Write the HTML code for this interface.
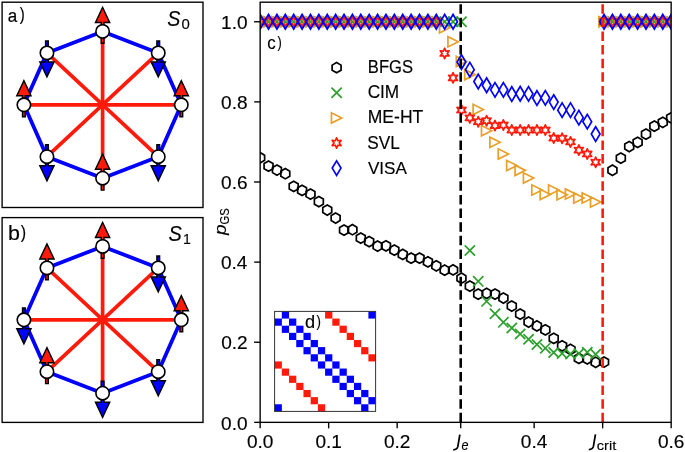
<!DOCTYPE html>
<html><head><meta charset="utf-8"><style>
html,body{margin:0;padding:0;background:#fff;width:685px;height:452px;overflow:hidden;}
svg{display:block;will-change:transform;}
text{font-family:"Liberation Sans",sans-serif;fill:#000;stroke:#000;stroke-width:0.15px;}
</style></head><body>
<svg width="685" height="452" viewBox="0 0 685 452">
<defs>
<clipPath id="axclip"><rect x="260.15" y="2.2" width="411.00" height="420.15"/></clipPath>
<path id="mh" d="M0,-5.14 L-4.46,-2.57 L-4.46,2.57 L-0,5.14 L4.46,2.57 L4.46,-2.57 Z" fill="none" stroke="#000" stroke-width="1.71" stroke-linejoin="miter"/>
<path id="mx" d="M-5.14,-5.14 L5.14,5.14 M-5.14,5.14 L5.14,-5.14" fill="none" stroke="#2ca02c" stroke-width="1.71" stroke-linecap="butt"/>
<path id="mt" d="M5.14,0 L-5.14,-5.14 L-5.14,5.14 Z" fill="none" stroke="#e9a02a" stroke-width="1.71" stroke-linejoin="miter"/>
<path id="ms" d="M0,-5.14 L-1.29,-2.23 L-4.46,-2.57 L-2.57,-0 L-4.46,2.57 L-1.29,2.23 L-0,5.14 L1.29,2.23 L4.46,2.57 L2.57,0 L4.46,-2.57 L1.29,-2.23 Z" fill="none" stroke="#ff1a0a" stroke-width="1.71" stroke-linejoin="round"/>
<path id="md" d="M0,-7.28 L4.37,0 L0,7.28 L-4.37,0 Z" fill="none" stroke="#0000ff" stroke-width="1.71" stroke-linejoin="miter"/>
</defs>
<rect width="685" height="452" fill="#fff"/>
<rect x="2.1" y="2.2" width="200.9" height="205.30" fill="none" stroke="#000" stroke-width="1.37"/>
<line x1="181.3" y1="104.8" x2="158.25" y2="52.9" stroke="#0000ff" stroke-width="3.8" stroke-linecap="round"/>
<line x1="158.25" y1="52.9" x2="102.6" y2="31.4" stroke="#0000ff" stroke-width="3.8" stroke-linecap="round"/>
<line x1="102.6" y1="31.4" x2="46.95" y2="52.9" stroke="#0000ff" stroke-width="3.8" stroke-linecap="round"/>
<line x1="46.95" y1="52.9" x2="23.9" y2="104.8" stroke="#0000ff" stroke-width="3.8" stroke-linecap="round"/>
<line x1="23.9" y1="104.8" x2="46.95" y2="156.7" stroke="#0000ff" stroke-width="3.8" stroke-linecap="round"/>
<line x1="46.95" y1="156.7" x2="102.6" y2="178.2" stroke="#0000ff" stroke-width="3.8" stroke-linecap="round"/>
<line x1="102.6" y1="178.2" x2="158.25" y2="156.7" stroke="#0000ff" stroke-width="3.8" stroke-linecap="round"/>
<line x1="158.25" y1="156.7" x2="181.3" y2="104.8" stroke="#0000ff" stroke-width="3.8" stroke-linecap="round"/>
<line x1="181.3" y1="104.8" x2="23.9" y2="104.8" stroke="#ff1a0a" stroke-width="3.7"/>
<line x1="158.25" y1="52.9" x2="46.95" y2="156.7" stroke="#ff1a0a" stroke-width="3.7"/>
<line x1="102.6" y1="31.4" x2="102.6" y2="178.2" stroke="#ff1a0a" stroke-width="3.7"/>
<line x1="46.95" y1="52.9" x2="158.25" y2="156.7" stroke="#ff1a0a" stroke-width="3.7"/>
<polygon points="101.25,43.3 101.25,22.4 95.5,22.4 102.6,7.4 109.7,22.4 103.95,22.4 103.95,43.3" fill="#ff1a0a" stroke="#000" stroke-width="1.45" stroke-linejoin="miter"/>
<polygon points="45.6,41 45.6,61.9 39.85,61.9 46.95,76.9 54.05,61.9 48.3,61.9 48.3,41" fill="#0000ff" stroke="#000" stroke-width="1.45" stroke-linejoin="miter"/>
<polygon points="22.55,116.7 22.55,95.8 16.8,95.8 23.9,80.8 31,95.8 25.25,95.8 25.25,116.7" fill="#ff1a0a" stroke="#000" stroke-width="1.45" stroke-linejoin="miter"/>
<polygon points="45.6,144.8 45.6,165.7 39.85,165.7 46.95,180.7 54.05,165.7 48.3,165.7 48.3,144.8" fill="#0000ff" stroke="#000" stroke-width="1.45" stroke-linejoin="miter"/>
<polygon points="101.25,190.1 101.25,169.2 95.5,169.2 102.6,154.2 109.7,169.2 103.95,169.2 103.95,190.1" fill="#ff1a0a" stroke="#000" stroke-width="1.45" stroke-linejoin="miter"/>
<polygon points="156.9,144.8 156.9,165.7 151.15,165.7 158.25,180.7 165.35,165.7 159.6,165.7 159.6,144.8" fill="#0000ff" stroke="#000" stroke-width="1.45" stroke-linejoin="miter"/>
<polygon points="179.95,116.7 179.95,95.8 174.2,95.8 181.3,80.8 188.4,95.8 182.65,95.8 182.65,116.7" fill="#ff1a0a" stroke="#000" stroke-width="1.45" stroke-linejoin="miter"/>
<polygon points="156.9,41 156.9,61.9 151.15,61.9 158.25,76.9 165.35,61.9 159.6,61.9 159.6,41" fill="#0000ff" stroke="#000" stroke-width="1.45" stroke-linejoin="miter"/>
<circle cx="102.6" cy="31.4" r="6.7" fill="#fff" stroke="#000" stroke-width="1.6"/>
<circle cx="46.95" cy="52.9" r="6.7" fill="#fff" stroke="#000" stroke-width="1.6"/>
<circle cx="23.9" cy="104.8" r="6.7" fill="#fff" stroke="#000" stroke-width="1.6"/>
<circle cx="46.95" cy="156.7" r="6.7" fill="#fff" stroke="#000" stroke-width="1.6"/>
<circle cx="102.6" cy="178.2" r="6.7" fill="#fff" stroke="#000" stroke-width="1.6"/>
<circle cx="158.25" cy="156.7" r="6.7" fill="#fff" stroke="#000" stroke-width="1.6"/>
<circle cx="181.3" cy="104.8" r="6.7" fill="#fff" stroke="#000" stroke-width="1.6"/>
<circle cx="158.25" cy="52.9" r="6.7" fill="#fff" stroke="#000" stroke-width="1.6"/>
<text transform="translate(7.73,21.61) scale(0.884,1)" font-size="19.27">a</text>
<text transform="translate(19.86,20.31) scale(0.825,1)" font-size="18.13">)</text>
<text transform="translate(167.37,25.62) scale(0.902,1)" font-size="21.80" font-style="italic">S</text>
<text transform="translate(181.43,29.05) scale(0.973,1)" font-size="15.35">0</text>
<rect x="2.1" y="217.6" width="200.9" height="204.80" fill="none" stroke="#000" stroke-width="1.37"/>
<line x1="181.3" y1="319.8" x2="158.25" y2="267.9" stroke="#0000ff" stroke-width="3.8" stroke-linecap="round"/>
<line x1="158.25" y1="267.9" x2="102.6" y2="246.4" stroke="#0000ff" stroke-width="3.8" stroke-linecap="round"/>
<line x1="102.6" y1="246.4" x2="46.95" y2="267.9" stroke="#0000ff" stroke-width="3.8" stroke-linecap="round"/>
<line x1="46.95" y1="267.9" x2="23.9" y2="319.8" stroke="#0000ff" stroke-width="3.8" stroke-linecap="round"/>
<line x1="23.9" y1="319.8" x2="46.95" y2="371.7" stroke="#0000ff" stroke-width="3.8" stroke-linecap="round"/>
<line x1="46.95" y1="371.7" x2="102.6" y2="393.2" stroke="#0000ff" stroke-width="3.8" stroke-linecap="round"/>
<line x1="102.6" y1="393.2" x2="158.25" y2="371.7" stroke="#0000ff" stroke-width="3.8" stroke-linecap="round"/>
<line x1="158.25" y1="371.7" x2="181.3" y2="319.8" stroke="#0000ff" stroke-width="3.8" stroke-linecap="round"/>
<line x1="181.3" y1="319.8" x2="23.9" y2="319.8" stroke="#ff1a0a" stroke-width="3.7"/>
<line x1="158.25" y1="267.9" x2="46.95" y2="371.7" stroke="#ff1a0a" stroke-width="3.7"/>
<line x1="102.6" y1="246.4" x2="102.6" y2="393.2" stroke="#ff1a0a" stroke-width="3.7"/>
<line x1="46.95" y1="267.9" x2="158.25" y2="371.7" stroke="#ff1a0a" stroke-width="3.7"/>
<polygon points="101.25,258.3 101.25,237.4 95.5,237.4 102.6,222.4 109.7,237.4 103.95,237.4 103.95,258.3" fill="#ff1a0a" stroke="#000" stroke-width="1.45" stroke-linejoin="miter"/>
<polygon points="45.6,279.8 45.6,258.9 39.85,258.9 46.95,243.9 54.05,258.9 48.3,258.9 48.3,279.8" fill="#ff1a0a" stroke="#000" stroke-width="1.45" stroke-linejoin="miter"/>
<polygon points="22.55,307.9 22.55,328.8 16.8,328.8 23.9,343.8 31,328.8 25.25,328.8 25.25,307.9" fill="#0000ff" stroke="#000" stroke-width="1.45" stroke-linejoin="miter"/>
<polygon points="45.6,383.6 45.6,362.7 39.85,362.7 46.95,347.7 54.05,362.7 48.3,362.7 48.3,383.6" fill="#ff1a0a" stroke="#000" stroke-width="1.45" stroke-linejoin="miter"/>
<polygon points="101.25,381.3 101.25,402.2 95.5,402.2 102.6,417.2 109.7,402.2 103.95,402.2 103.95,381.3" fill="#0000ff" stroke="#000" stroke-width="1.45" stroke-linejoin="miter"/>
<polygon points="156.9,359.8 156.9,380.7 151.15,380.7 158.25,395.7 165.35,380.7 159.6,380.7 159.6,359.8" fill="#0000ff" stroke="#000" stroke-width="1.45" stroke-linejoin="miter"/>
<polygon points="179.95,331.7 179.95,310.8 174.2,310.8 181.3,295.8 188.4,310.8 182.65,310.8 182.65,331.7" fill="#ff1a0a" stroke="#000" stroke-width="1.45" stroke-linejoin="miter"/>
<polygon points="156.9,256 156.9,276.9 151.15,276.9 158.25,291.9 165.35,276.9 159.6,276.9 159.6,256" fill="#0000ff" stroke="#000" stroke-width="1.45" stroke-linejoin="miter"/>
<circle cx="102.6" cy="246.4" r="6.7" fill="#fff" stroke="#000" stroke-width="1.6"/>
<circle cx="46.95" cy="267.9" r="6.7" fill="#fff" stroke="#000" stroke-width="1.6"/>
<circle cx="23.9" cy="319.8" r="6.7" fill="#fff" stroke="#000" stroke-width="1.6"/>
<circle cx="46.95" cy="371.7" r="6.7" fill="#fff" stroke="#000" stroke-width="1.6"/>
<circle cx="102.6" cy="393.2" r="6.7" fill="#fff" stroke="#000" stroke-width="1.6"/>
<circle cx="158.25" cy="371.7" r="6.7" fill="#fff" stroke="#000" stroke-width="1.6"/>
<circle cx="181.3" cy="319.8" r="6.7" fill="#fff" stroke="#000" stroke-width="1.6"/>
<circle cx="158.25" cy="267.9" r="6.7" fill="#fff" stroke="#000" stroke-width="1.6"/>
<text transform="translate(8.03,239.80) scale(1.092,1)" font-size="19.62">b</text>
<text transform="translate(20.84,238.34) scale(0.868,1)" font-size="18.52">)</text>
<text transform="translate(168.58,240.74) scale(0.907,1)" font-size="21.97" font-style="italic">S</text>
<text transform="translate(182.89,243.90) scale(0.921,1)" font-size="15.36">1</text>
<g clip-path="url(#axclip)">
<use href="#mh" x="260.15" y="157.75"/>
<use href="#mh" x="268.54" y="166.17"/>
<use href="#mh" x="276.93" y="170.05"/>
<use href="#mh" x="285.31" y="173.74"/>
<use href="#mh" x="293.7" y="186.36"/>
<use href="#mh" x="302.09" y="190.36"/>
<use href="#mh" x="310.48" y="194.05"/>
<use href="#mh" x="318.86" y="201.66"/>
<use href="#mh" x="327.25" y="210.03"/>
<use href="#mh" x="335.64" y="218.04"/>
<use href="#mh" x="344.03" y="230.14"/>
<use href="#mh" x="352.42" y="229.74"/>
<use href="#mh" x="360.8" y="238.07"/>
<use href="#mh" x="369.19" y="241.64"/>
<use href="#mh" x="377.58" y="246.05"/>
<use href="#mh" x="385.97" y="245.89"/>
<use href="#mh" x="394.35" y="250.17"/>
<use href="#mh" x="402.74" y="254.46"/>
<use href="#mh" x="411.13" y="258.14"/>
<use href="#mh" x="419.52" y="258.14"/>
<use href="#mh" x="427.91" y="261.83"/>
<use href="#mh" x="436.29" y="265.8"/>
<use href="#mh" x="444.68" y="270.2"/>
<use href="#mh" x="453.07" y="269.96"/>
<use href="#mh" x="461.46" y="278.21"/>
<use href="#mh" x="469.84" y="286.15"/>
<use href="#mh" x="478.23" y="294.16"/>
<use href="#mh" x="486.62" y="293.44"/>
<use href="#mh" x="495.01" y="294.16"/>
<use href="#mh" x="503.39" y="298.04"/>
<use href="#mh" x="511.78" y="306.06"/>
<use href="#mh" x="520.17" y="314.07"/>
<use href="#mh" x="528.56" y="322.04"/>
<use href="#mh" x="536.95" y="325.97"/>
<use href="#mh" x="545.33" y="329.93"/>
<use href="#mh" x="553.72" y="338.34"/>
<use href="#mh" x="562.11" y="345.84"/>
<use href="#mh" x="570.5" y="349.44"/>
<use href="#mh" x="578.88" y="358.45"/>
<use href="#mh" x="587.27" y="358.85"/>
<use href="#mh" x="595.66" y="362.26"/>
<use href="#mh" x="604.05" y="362.06"/>
<use href="#mh" x="612.44" y="170.25"/>
<use href="#mh" x="620.82" y="158.15"/>
<use href="#mh" x="629.21" y="146.54"/>
<use href="#mh" x="637.6" y="142.33"/>
<use href="#mh" x="645.99" y="134.16"/>
<use href="#mh" x="654.37" y="126.15"/>
<use href="#mh" x="662.76" y="122.3"/>
<use href="#mh" x="671.15" y="117.89"/>
<use href="#mx" x="260.15" y="21.75"/>
<use href="#mx" x="268.54" y="21.75"/>
<use href="#mx" x="276.93" y="21.75"/>
<use href="#mx" x="285.31" y="21.75"/>
<use href="#mx" x="293.7" y="21.75"/>
<use href="#mx" x="302.09" y="21.75"/>
<use href="#mx" x="310.48" y="21.75"/>
<use href="#mx" x="318.86" y="21.75"/>
<use href="#mx" x="327.25" y="21.75"/>
<use href="#mx" x="335.64" y="21.75"/>
<use href="#mx" x="344.03" y="21.75"/>
<use href="#mx" x="352.42" y="21.75"/>
<use href="#mx" x="360.8" y="21.75"/>
<use href="#mx" x="369.19" y="21.75"/>
<use href="#mx" x="377.58" y="21.75"/>
<use href="#mx" x="385.97" y="21.75"/>
<use href="#mx" x="394.35" y="21.75"/>
<use href="#mx" x="402.74" y="21.75"/>
<use href="#mx" x="411.13" y="21.75"/>
<use href="#mx" x="419.52" y="21.75"/>
<use href="#mx" x="427.91" y="21.75"/>
<use href="#mx" x="436.29" y="21.75"/>
<use href="#mx" x="444.68" y="21.75"/>
<use href="#mx" x="453.07" y="21.75"/>
<use href="#mx" x="461.46" y="21.75"/>
<use href="#mx" x="469.84" y="250.49"/>
<use href="#mx" x="478.23" y="281.34"/>
<use href="#mx" x="486.62" y="301.37"/>
<use href="#mx" x="495.01" y="313.79"/>
<use href="#mx" x="503.39" y="322.36"/>
<use href="#mx" x="511.78" y="327.97"/>
<use href="#mx" x="520.17" y="333.94"/>
<use href="#mx" x="528.56" y="339.27"/>
<use href="#mx" x="536.95" y="344.55"/>
<use href="#mx" x="545.33" y="348.16"/>
<use href="#mx" x="553.72" y="352.45"/>
<use href="#mx" x="562.11" y="353.57"/>
<use href="#mx" x="570.5" y="354.05"/>
<use href="#mx" x="578.88" y="353.57"/>
<use href="#mx" x="587.27" y="352.25"/>
<use href="#mx" x="595.66" y="354.25"/>
<use href="#mx" x="604.05" y="21.75"/>
<use href="#mx" x="612.44" y="21.75"/>
<use href="#mx" x="620.82" y="21.75"/>
<use href="#mx" x="629.21" y="21.75"/>
<use href="#mx" x="637.6" y="21.75"/>
<use href="#mx" x="645.99" y="21.75"/>
<use href="#mx" x="654.37" y="21.75"/>
<use href="#mx" x="662.76" y="21.75"/>
<use href="#mx" x="671.15" y="21.75"/>
<use href="#mt" x="260.15" y="21.75"/>
<use href="#mt" x="268.54" y="21.75"/>
<use href="#mt" x="276.93" y="21.75"/>
<use href="#mt" x="285.31" y="21.75"/>
<use href="#mt" x="293.7" y="21.75"/>
<use href="#mt" x="302.09" y="21.75"/>
<use href="#mt" x="310.48" y="21.75"/>
<use href="#mt" x="318.86" y="21.75"/>
<use href="#mt" x="327.25" y="21.75"/>
<use href="#mt" x="335.64" y="21.75"/>
<use href="#mt" x="344.03" y="21.75"/>
<use href="#mt" x="352.42" y="21.75"/>
<use href="#mt" x="360.8" y="21.75"/>
<use href="#mt" x="369.19" y="21.75"/>
<use href="#mt" x="377.58" y="21.75"/>
<use href="#mt" x="385.97" y="21.75"/>
<use href="#mt" x="394.35" y="21.75"/>
<use href="#mt" x="402.74" y="21.75"/>
<use href="#mt" x="411.13" y="21.75"/>
<use href="#mt" x="419.52" y="21.75"/>
<use href="#mt" x="427.91" y="21.75"/>
<use href="#mt" x="436.29" y="21.75"/>
<use href="#mt" x="444.68" y="27.76"/>
<use href="#mt" x="453.07" y="41.78"/>
<use href="#mt" x="461.46" y="61.41"/>
<use href="#mt" x="469.84" y="74.63"/>
<use href="#mt" x="478.23" y="109.48"/>
<use href="#mt" x="486.62" y="130.71"/>
<use href="#mt" x="495.01" y="142.33"/>
<use href="#mt" x="503.39" y="153.95"/>
<use href="#mt" x="511.78" y="165.57"/>
<use href="#mt" x="520.17" y="170.37"/>
<use href="#mt" x="528.56" y="177.98"/>
<use href="#mt" x="536.95" y="190"/>
<use href="#mt" x="545.33" y="194.41"/>
<use href="#mt" x="553.72" y="190"/>
<use href="#mt" x="562.11" y="194.81"/>
<use href="#mt" x="570.5" y="194.01"/>
<use href="#mt" x="578.88" y="198.01"/>
<use href="#mt" x="587.27" y="198.01"/>
<use href="#mt" x="595.66" y="202.02"/>
<use href="#mt" x="604.05" y="21.75"/>
<use href="#mt" x="612.44" y="21.75"/>
<use href="#mt" x="620.82" y="21.75"/>
<use href="#mt" x="629.21" y="21.75"/>
<use href="#mt" x="637.6" y="21.75"/>
<use href="#mt" x="645.99" y="21.75"/>
<use href="#mt" x="654.37" y="21.75"/>
<use href="#mt" x="662.76" y="21.75"/>
<use href="#mt" x="671.15" y="21.75"/>
<use href="#ms" x="260.15" y="21.75"/>
<use href="#ms" x="268.54" y="21.75"/>
<use href="#ms" x="276.93" y="21.75"/>
<use href="#ms" x="285.31" y="21.75"/>
<use href="#ms" x="293.7" y="21.75"/>
<use href="#ms" x="302.09" y="21.75"/>
<use href="#ms" x="310.48" y="21.75"/>
<use href="#ms" x="318.86" y="21.75"/>
<use href="#ms" x="327.25" y="21.75"/>
<use href="#ms" x="335.64" y="21.75"/>
<use href="#ms" x="344.03" y="21.75"/>
<use href="#ms" x="352.42" y="21.75"/>
<use href="#ms" x="360.8" y="21.75"/>
<use href="#ms" x="369.19" y="21.75"/>
<use href="#ms" x="377.58" y="21.75"/>
<use href="#ms" x="385.97" y="21.75"/>
<use href="#ms" x="394.35" y="21.75"/>
<use href="#ms" x="402.74" y="21.75"/>
<use href="#ms" x="411.13" y="21.75"/>
<use href="#ms" x="419.52" y="21.75"/>
<use href="#ms" x="427.91" y="21.75"/>
<use href="#ms" x="436.29" y="21.75"/>
<use href="#ms" x="444.68" y="53.4"/>
<use href="#ms" x="453.07" y="77.83"/>
<use href="#ms" x="461.46" y="110.04"/>
<use href="#ms" x="469.84" y="117.85"/>
<use href="#ms" x="478.23" y="121.74"/>
<use href="#ms" x="486.62" y="120.66"/>
<use href="#ms" x="495.01" y="125.55"/>
<use href="#ms" x="503.39" y="125.02"/>
<use href="#ms" x="511.78" y="130.03"/>
<use href="#ms" x="520.17" y="130.03"/>
<use href="#ms" x="528.56" y="130.03"/>
<use href="#ms" x="536.95" y="130.03"/>
<use href="#ms" x="545.33" y="130.03"/>
<use href="#ms" x="553.72" y="138.04"/>
<use href="#ms" x="562.11" y="138.24"/>
<use href="#ms" x="570.5" y="141.93"/>
<use href="#ms" x="578.88" y="150.06"/>
<use href="#ms" x="587.27" y="153.95"/>
<use href="#ms" x="595.66" y="162.24"/>
<use href="#ms" x="604.05" y="21.75"/>
<use href="#ms" x="612.44" y="21.75"/>
<use href="#ms" x="620.82" y="21.75"/>
<use href="#ms" x="629.21" y="21.75"/>
<use href="#ms" x="637.6" y="21.75"/>
<use href="#ms" x="645.99" y="21.75"/>
<use href="#ms" x="654.37" y="21.75"/>
<use href="#ms" x="662.76" y="21.75"/>
<use href="#ms" x="671.15" y="21.75"/>
<use href="#md" x="260.15" y="21.75"/>
<use href="#md" x="268.54" y="21.75"/>
<use href="#md" x="276.93" y="21.75"/>
<use href="#md" x="285.31" y="21.75"/>
<use href="#md" x="293.7" y="21.75"/>
<use href="#md" x="302.09" y="21.75"/>
<use href="#md" x="310.48" y="21.75"/>
<use href="#md" x="318.86" y="21.75"/>
<use href="#md" x="327.25" y="21.75"/>
<use href="#md" x="335.64" y="21.75"/>
<use href="#md" x="344.03" y="21.75"/>
<use href="#md" x="352.42" y="21.75"/>
<use href="#md" x="360.8" y="21.75"/>
<use href="#md" x="369.19" y="21.75"/>
<use href="#md" x="377.58" y="21.75"/>
<use href="#md" x="385.97" y="21.75"/>
<use href="#md" x="394.35" y="21.75"/>
<use href="#md" x="402.74" y="21.75"/>
<use href="#md" x="411.13" y="21.75"/>
<use href="#md" x="419.52" y="21.75"/>
<use href="#md" x="427.91" y="21.75"/>
<use href="#md" x="436.29" y="21.75"/>
<use href="#md" x="444.68" y="21.75"/>
<use href="#md" x="453.07" y="21.75"/>
<use href="#md" x="461.46" y="62.01"/>
<use href="#md" x="469.84" y="69.66"/>
<use href="#md" x="478.23" y="81.56"/>
<use href="#md" x="486.62" y="85.25"/>
<use href="#md" x="495.01" y="89.85"/>
<use href="#md" x="503.39" y="89.85"/>
<use href="#md" x="511.78" y="94.06"/>
<use href="#md" x="520.17" y="93.74"/>
<use href="#md" x="528.56" y="93.86"/>
<use href="#md" x="536.95" y="98.06"/>
<use href="#md" x="545.33" y="97.86"/>
<use href="#md" x="553.72" y="102.07"/>
<use href="#md" x="562.11" y="110.16"/>
<use href="#md" x="570.5" y="110.16"/>
<use href="#md" x="578.88" y="117.65"/>
<use href="#md" x="587.27" y="121.66"/>
<use href="#md" x="595.66" y="134.04"/>
<use href="#md" x="604.05" y="21.75"/>
<use href="#md" x="612.44" y="21.75"/>
<use href="#md" x="620.82" y="21.75"/>
<use href="#md" x="629.21" y="21.75"/>
<use href="#md" x="637.6" y="21.75"/>
<use href="#md" x="645.99" y="21.75"/>
<use href="#md" x="654.37" y="21.75"/>
<use href="#md" x="662.76" y="21.75"/>
<use href="#md" x="671.15" y="21.75"/>
<line x1="460.7" y1="422.35" x2="460.7" y2="2.2" stroke="#000" stroke-width="2.57" stroke-dasharray="9.51 4.11"/>
<line x1="602.65" y1="422.35" x2="602.65" y2="2.2" stroke="#ff1a0a" stroke-width="2.57" stroke-dasharray="9.51 4.11"/>
</g>
<rect x="260.15" y="2.2" width="411.00" height="420.15" fill="none" stroke="#000" stroke-width="1.37"/>
<line x1="260.15" y1="422.35" x2="254.14999999999998" y2="422.35" stroke="#000" stroke-width="1.37"/>
<text transform="translate(221.06,429.57) scale(1.060,1)" font-size="18.00">0.0</text>
<line x1="260.15" y1="342.23" x2="254.14999999999998" y2="342.23" stroke="#000" stroke-width="1.37"/>
<text transform="translate(221.20,349.38) scale(1.060,1)" font-size="18.00">0.2</text>
<line x1="260.15" y1="262.11" x2="254.14999999999998" y2="262.11" stroke="#000" stroke-width="1.37"/>
<text transform="translate(220.89,269.19) scale(1.060,1)" font-size="18.00">0.4</text>
<line x1="260.15" y1="181.99" x2="254.14999999999998" y2="181.99" stroke="#000" stroke-width="1.37"/>
<text transform="translate(221.09,188.99) scale(1.060,1)" font-size="18.00">0.6</text>
<line x1="260.15" y1="101.87" x2="254.14999999999998" y2="101.87" stroke="#000" stroke-width="1.37"/>
<text transform="translate(221.10,108.80) scale(1.060,1)" font-size="18.00">0.8</text>
<line x1="260.15" y1="21.75" x2="254.14999999999998" y2="21.75" stroke="#000" stroke-width="1.37"/>
<text transform="translate(221.08,28.61) scale(1.060,1)" font-size="18.00">1.0</text>
<line x1="260.15" y1="422.35" x2="260.15" y2="428.35" stroke="#000" stroke-width="1.37"/>
<line x1="328.65" y1="422.35" x2="328.65" y2="428.35" stroke="#000" stroke-width="1.37"/>
<line x1="397.15" y1="422.35" x2="397.15" y2="428.35" stroke="#000" stroke-width="1.37"/>
<line x1="460.7" y1="422.35" x2="460.7" y2="428.35" stroke="#000" stroke-width="1.37"/>
<line x1="534.15" y1="422.35" x2="534.15" y2="428.35" stroke="#000" stroke-width="1.37"/>
<line x1="602.65" y1="422.35" x2="602.65" y2="428.35" stroke="#000" stroke-width="1.37"/>
<line x1="671.15" y1="422.35" x2="671.15" y2="428.35" stroke="#000" stroke-width="1.37"/>
<text transform="translate(246.88,447.84) scale(1.060,1)" font-size="18.00">0.0</text>
<text transform="translate(315.44,447.84) scale(1.060,1)" font-size="18.00">0.1</text>
<text transform="translate(383.96,447.84) scale(1.060,1)" font-size="18.00">0.2</text>
<text transform="translate(520.80,447.84) scale(1.060,1)" font-size="18.00">0.4</text>
<text transform="translate(657.92,447.84) scale(1.060,1)" font-size="18.00">0.6</text>
<path d="M459.85,434.6 L457.85,446.4 Q457.2,449.75 453.2,449.85" fill="none" stroke="#000" stroke-width="1.75"/>
<text transform="translate(461.39,450.02) scale(0.889,1)" font-size="14.24" font-style="italic">e</text>
<path d="M595.45,434.4 L593.45,446.2 Q592.8,449.55 588.8,449.65" fill="none" stroke="#000" stroke-width="1.75"/>
<text transform="translate(596.74,449.55) scale(1.103,1)" font-size="13.24">crit</text>
<g transform="translate(226.3,235.3) rotate(-90)">
<text transform="translate(0.38,-0.18) scale(1.107,1)" font-size="17.07" font-style="italic">p</text>
<text transform="translate(10.84,2.47) scale(0.892,1)" font-size="12.54">GS</text>
</g>
<text transform="translate(267.24,48.82) scale(0.957,1)" font-size="17.60">c</text>
<text transform="translate(277.54,47.80) scale(0.811,1)" font-size="15.79">)</text>
<use href="#mh" x="336.6" y="67.7"/>
<text transform="translate(367.83,73.32) scale(0.935,1)" font-size="17.75">BFGS</text>
<use href="#mx" x="336.6" y="92.8"/>
<text transform="translate(367.64,98.32) scale(0.971,1)" font-size="17.75">CIM</text>
<use href="#mt" x="336.6" y="117.9"/>
<text transform="translate(367.74,123.46) scale(0.994,1)" font-size="17.66">ME-HT</text>
<use href="#ms" x="336.6" y="143"/>
<text transform="translate(367.35,148.66) scale(0.952,1)" font-size="18.08">SVL</text>
<use href="#md" x="336.6" y="168.1"/>
<text transform="translate(367.91,173.51) scale(1.009,1)" font-size="16.96">VISA</text>
<rect x="274.6" y="311.4" width="101.0" height="100.0" fill="#fff"/>
<rect x="281.81" y="311.4" width="7.26" height="7.19" fill="#0000ff"/>
<rect x="325.1" y="311.4" width="7.26" height="7.19" fill="#ff1a0a"/>
<rect x="368.39" y="311.4" width="7.26" height="7.19" fill="#0000ff"/>
<rect x="274.6" y="318.54" width="7.26" height="7.19" fill="#0000ff"/>
<rect x="289.03" y="318.54" width="7.26" height="7.19" fill="#0000ff"/>
<rect x="332.31" y="318.54" width="7.26" height="7.19" fill="#ff1a0a"/>
<rect x="281.81" y="325.69" width="7.26" height="7.19" fill="#0000ff"/>
<rect x="296.24" y="325.69" width="7.26" height="7.19" fill="#0000ff"/>
<rect x="339.53" y="325.69" width="7.26" height="7.19" fill="#ff1a0a"/>
<rect x="289.03" y="332.83" width="7.26" height="7.19" fill="#0000ff"/>
<rect x="303.46" y="332.83" width="7.26" height="7.19" fill="#0000ff"/>
<rect x="346.74" y="332.83" width="7.26" height="7.19" fill="#ff1a0a"/>
<rect x="296.24" y="339.97" width="7.26" height="7.19" fill="#0000ff"/>
<rect x="310.67" y="339.97" width="7.26" height="7.19" fill="#0000ff"/>
<rect x="353.96" y="339.97" width="7.26" height="7.19" fill="#ff1a0a"/>
<rect x="303.46" y="347.11" width="7.26" height="7.19" fill="#0000ff"/>
<rect x="317.89" y="347.11" width="7.26" height="7.19" fill="#0000ff"/>
<rect x="361.17" y="347.11" width="7.26" height="7.19" fill="#ff1a0a"/>
<rect x="310.67" y="354.26" width="7.26" height="7.19" fill="#0000ff"/>
<rect x="325.1" y="354.26" width="7.26" height="7.19" fill="#0000ff"/>
<rect x="368.39" y="354.26" width="7.26" height="7.19" fill="#ff1a0a"/>
<rect x="274.6" y="361.4" width="7.26" height="7.19" fill="#ff1a0a"/>
<rect x="317.89" y="361.4" width="7.26" height="7.19" fill="#0000ff"/>
<rect x="332.31" y="361.4" width="7.26" height="7.19" fill="#0000ff"/>
<rect x="281.81" y="368.54" width="7.26" height="7.19" fill="#ff1a0a"/>
<rect x="325.1" y="368.54" width="7.26" height="7.19" fill="#0000ff"/>
<rect x="339.53" y="368.54" width="7.26" height="7.19" fill="#0000ff"/>
<rect x="289.03" y="375.69" width="7.26" height="7.19" fill="#ff1a0a"/>
<rect x="332.31" y="375.69" width="7.26" height="7.19" fill="#0000ff"/>
<rect x="346.74" y="375.69" width="7.26" height="7.19" fill="#0000ff"/>
<rect x="296.24" y="382.83" width="7.26" height="7.19" fill="#ff1a0a"/>
<rect x="339.53" y="382.83" width="7.26" height="7.19" fill="#0000ff"/>
<rect x="353.96" y="382.83" width="7.26" height="7.19" fill="#0000ff"/>
<rect x="303.46" y="389.97" width="7.26" height="7.19" fill="#ff1a0a"/>
<rect x="346.74" y="389.97" width="7.26" height="7.19" fill="#0000ff"/>
<rect x="361.17" y="389.97" width="7.26" height="7.19" fill="#0000ff"/>
<rect x="310.67" y="397.11" width="7.26" height="7.19" fill="#ff1a0a"/>
<rect x="353.96" y="397.11" width="7.26" height="7.19" fill="#0000ff"/>
<rect x="368.39" y="397.11" width="7.26" height="7.19" fill="#0000ff"/>
<rect x="274.6" y="404.26" width="7.26" height="7.19" fill="#0000ff"/>
<rect x="317.89" y="404.26" width="7.26" height="7.19" fill="#ff1a0a"/>
<rect x="361.17" y="404.26" width="7.26" height="7.19" fill="#0000ff"/>
<rect x="274.6" y="311.4" width="101.0" height="100.0" fill="none" stroke="#333" stroke-width="1"/>
<text transform="translate(305.11,327.63) scale(1.047,1)" font-size="17.43">d</text>
<text transform="translate(316.58,326.96) scale(0.842,1)" font-size="15.79">)</text>
</svg>
</body></html>
